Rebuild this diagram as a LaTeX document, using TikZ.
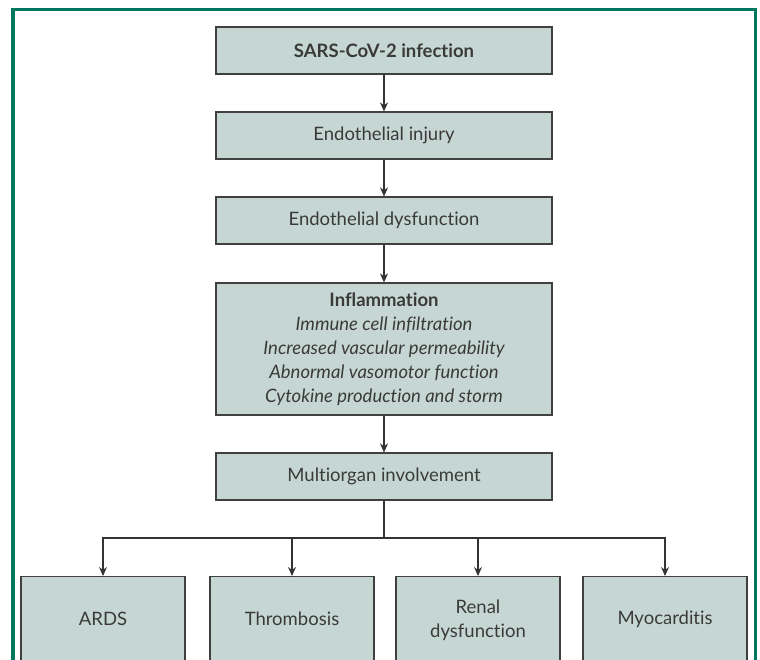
\documentclass[tikz,border=0pt]{standalone}
\usepackage{fontspec}
\setmainfont{Lato}[Ligatures=NoCommon]
\usetikzlibrary{arrows.meta}
\definecolor{frame}{HTML}{00785F}
\definecolor{boxfill}{HTML}{C6D7D3}
\definecolor{txt}{HTML}{3A3A3A}
\begin{document}
\begin{tikzpicture}[x=1pt,y=-1pt,
  lbl/.style={text=txt,font=\fontsize{18.5}{24}\selectfont,align=center,inner sep=0pt},
  box/.style={draw=black!75,line width=1.2pt,fill=boxfill,lbl},
  conn/.style={draw=black!80,line width=1.1pt,-{Stealth[length=9pt,width=8pt]}},
  line/.style={draw=black!80,line width=1.1pt}]
\useasboundingbox (0,0) rectangle (760,659);
\clip (0,0) rectangle (760,659);
\draw[frame,line width=3.5pt] (13,9.5) rectangle (755.5,720);
\node[box,minimum width=336pt,minimum height=47pt] (sars) at (384,50.5) {\bfseries SARS-CoV-2 infection};
\node[box,minimum width=336pt,minimum height=47pt] (inj) at (384,135.5) {Endothelial injury};
\node[box,minimum width=336pt,minimum height=47pt] (dys) at (384,220.5) {Endothelial dysfunction};
\node[box,minimum width=336pt,minimum height=132pt] (inf) at (384,349) {{\bfseries Inflammation}\\ \itshape Immune cell infiltration\\ \itshape Increased vascular permeability\\ \itshape Abnormal vasomotor function\\ \itshape Cytokine production and storm};
\node[box,minimum width=336pt,minimum height=47pt] (multi) at (384,476.5) {Multiorgan involvement};
\node[box,minimum width=164pt,minimum height=110pt,anchor=north] (ards) at (103,576) {};
\node[box,minimum width=164pt,minimum height=110pt,anchor=north] (thr) at (292,576) {};
\node[box,minimum width=164pt,minimum height=110pt,anchor=north] (ren) at (478,576) {};
\node[box,minimum width=164pt,minimum height=110pt,anchor=north] (myo) at (665,576) {};
\node[lbl] (tards) at (103,619) {ARDS};
\node[lbl] (tthr) at (292,619) {Thrombosis};
\node[lbl] (tren) at (478,620) {Renal\\dysfunction};
\node[lbl] (tmyo) at (665,619) {Myocarditis};
\draw[conn] (sars) -- (inj);
\draw[conn] (inj) -- (dys);
\draw[conn] (dys) -- (inf);
\draw[conn] (inf) -- (multi);
\coordinate (j) at (384,538);
\draw[line] (multi) -- (j);
\draw[conn] (j) -| (ards.north);
\draw[conn] (j) -| (thr.north);
\draw[conn] (j) -| (ren.north);
\draw[conn] (j) -| (myo.north);
\end{tikzpicture}
\end{document}
